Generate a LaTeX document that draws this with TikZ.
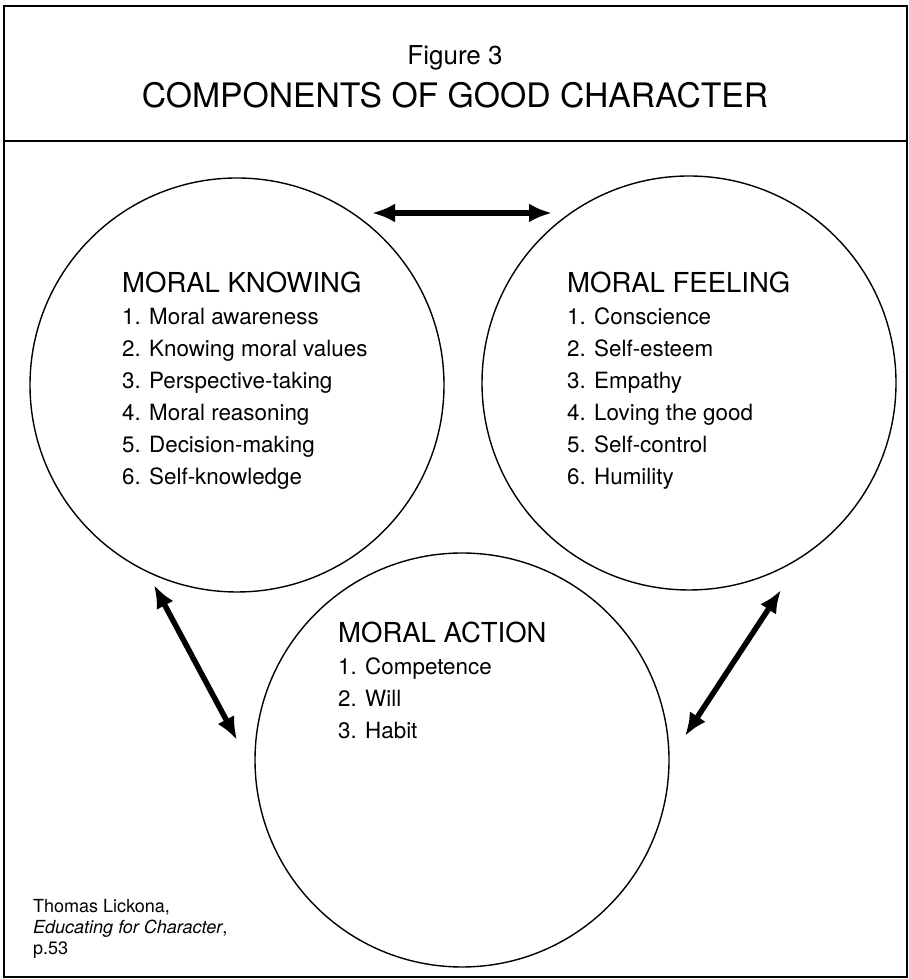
\documentclass[tikz,border=0pt]{standalone}
\usepackage{fontspec}
\setmainfont{TeX Gyre Heros}
\usetikzlibrary{arrows.meta}
\begin{document}
\begin{tikzpicture}[x=1pt,y=1pt,
  ring/.style={circle,draw,line width=1.4pt,minimum size=414pt,inner sep=0pt},
  head/.style={anchor=base west,inner sep=0pt,font=\fontsize{27.5}{33}\selectfont},
  item/.style={anchor=base west,inner sep=0pt,font=\fontsize{22.4}{27}\selectfont},
  titletext/.style={anchor=base,inner sep=0pt},
  cite/.style={anchor=base west,inner sep=0pt,font=\fontsize{18}{21}\selectfont},
  link/.style={line width=5.5pt,{Latex[length=23pt,width=19pt]}-{Latex[length=23pt,width=19pt]}},
  frame/.style={line width=1.6pt}
]
\useasboundingbox (0,0) rectangle (909,979);

% outer frame and title band
\draw[frame] (4,2) rectangle (907,973);
\draw[frame] (4,838) -- (907,838);
\node[titletext,font=\fontsize{26}{30}\selectfont] (fig) at (455,914) {Figure 3};
\node[titletext,font=\fontsize{33.7}{40}\selectfont] (title) at (455,871) {COMPONENTS OF GOOD CHARACTER};

% the three components
\node[ring] (kn) at (237,594) {};
\node[ring] (fe) at (689,596) {};
\node[ring] (ac) at (462,219) {};

\node[head] (knh) at (122,686) {MORAL KNOWING};
\foreach \t [count=\i] in {1. Moral awareness,2. Knowing moral values,3. Perspective-taking,4. Moral reasoning,5. Decision-making,6. Self-knowledge}
  \node[item] (kn\i) at (122,686-32*\i) {\t};

\node[head] (feh) at (567,686) {MORAL FEELING};
\foreach \t [count=\i] in {1. Conscience,2. Self-esteem,3. Empathy,4. Loving the good,5. Self-control,6. Humility}
  \node[item] (fe\i) at (567,686-32*\i) {\t};

\node[head] (ach) at (338,336) {MORAL ACTION};
\foreach \t [count=\i] in {1. Competence,2. Will,3. Habit}
  \node[item] (ac\i) at (338,336-32*\i) {\t};

% two-way links between the components
\coordinate (knR) at (372,766);
\coordinate (feL) at (552,766);
\coordinate (knB) at (154,394);
\coordinate (acL) at (237,239);
\coordinate (feB) at (781,389);
\coordinate (acR) at (685,243);
\draw[link] (knR) -- (feL);
\draw[link] (knB) -- (acL);
\draw[link] (feB) -- (acR);

% source
\node[cite] (c1) at (33,66) {Thomas Lickona,};
\node[cite] (c2) at (33,45) {\itshape Educating for Character\upshape,};
\node[cite] (c3) at (33,24) {p.53};
\end{tikzpicture}
\end{document}
